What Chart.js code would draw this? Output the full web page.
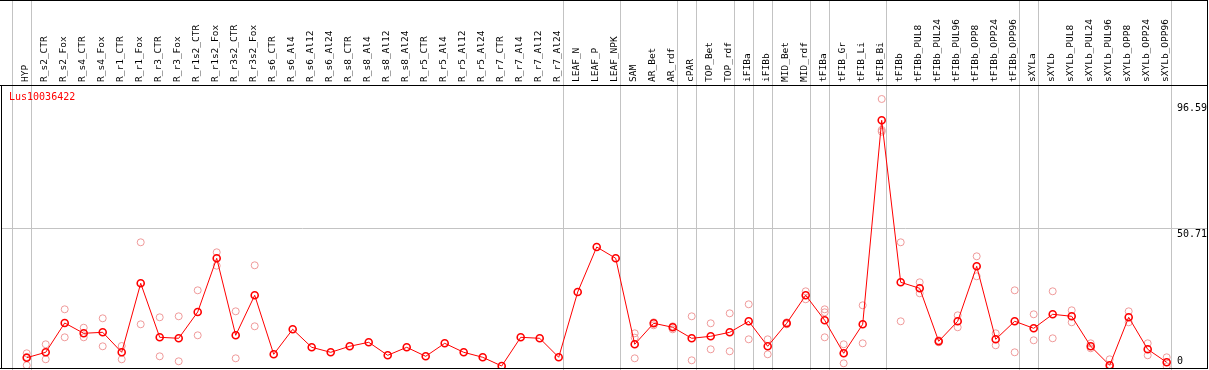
<!DOCTYPE html>
<html><head><meta charset="utf-8">
<script src="https://cdn.jsdelivr.net/npm/chart.js@4/dist/chart.umd.min.js"></script>
<style>html,body{margin:0;padding:0;background:#fff;overflow:hidden}#wrap{width:1209px;height:370px;position:relative}</style>
</head><body><div id="wrap"><canvas id="c" width="1209" height="370"></canvas></div>
<script>
const title = 'Lus10036422';
const categories = ['HYP','R_s2_CTR','R_s2_Fox','R_s4_CTR','R_s4_Fox','R_r1_CTR','R_r1_Fox','R_r3_CTR','R_r3_Fox','R_r1s2_CTR','R_r1s2_Fox','R_r3s2_CTR','R_r3s2_Fox','R_s6_CTR','R_s6_Al4','R_s6_Al12','R_s6_Al24','R_s8_CTR','R_s8_Al4','R_s8_Al12','R_s8_Al24','R_r5_CTR','R_r5_Al4','R_r5_Al12','R_r5_Al24','R_r7_CTR','R_r7_Al4','R_r7_Al12','R_r7_Al24','LEAF_N','LEAF_P','LEAF_NPK','SAM','AR_Bet','AR_rdf','cPAR','TOP_Bet','TOP_rdf','iFIBa','iFIBb','MID_Bet','MID_rdf','tFIBa','tFIB_Gr','tFIB_Li','tFIB_Bi','tFIBb','tFIBb_PUL8','tFIBb_PUL24','tFIBb_PUL96','tFIBb_OPP8','tFIBb_OPP24','tFIBb_OPP96','sXYLa','sXYLb','sXYLb_PUL8','sXYLb_PUL24','sXYLb_PUL96','sXYLb_OPP8','sXYLb_OPP24','sXYLb_OPP96'];
const means = [3.50,5.47,16.16,12.40,12.76,5.47,30.63,10.94,10.58,20.17,39.75,11.67,26.26,4.74,13.86,7.29,5.47,7.66,9.12,4.38,7.29,4.01,8.75,5.47,3.65,0.47,10.94,10.58,3.65,27.46,43.87,39.75,8.39,16.05,14.59,10.58,11.31,12.76,16.78,7.66,16.05,26.26,17.14,5.11,15.68,90.08,31.0,28.81,9.48,16.78,36.83,10.21,16.78,14.22,19.33,18.6,7.66,0.73,18.24,6.56,1.82];
const rep1 = [5.11,8.39,21.15,14.44,17.87,7.77,45.59,18.24,18.6,28.08,41.94,20.42,37.2,null,null,null,null,null,null,null,null,null,null,null,null,null,null,null,null,null,null,null,12.4,16.41,14.95,18.6,16.05,19.69,22.98,10.21,16.41,27.72,21.15,8.39,22.61,97.85,45.59,31.0,9.85,18.96,40.48,12.4,28.08,19.33,27.72,20.79,8.75,2.92,20.42,8.75,3.65];
const rep2 = [0.73,2.92,10.94,10.94,7.66,2.92,15.68,4.01,2.19,11.67,37.05,3.28,14.95,null,null,null,null,null,null,null,null,null,null,null,null,null,null,null,null,null,null,null,3.28,15.32,13.86,2.55,6.56,5.84,10.21,4.74,15.68,24.8,10.94,1.46,8.75,85.92,16.78,26.99,9.12,14.59,33.19,8.02,5.47,9.85,10.58,16.41,6.93,0,16.41,4.38,0.36];
const rep3 = [3.76,null,null,null,null,null,null,null,null,null,null,null,null,null,null,null,null,null,null,null,null,null,null,null,null,null,null,null,null,null,null,null,10.8,null,null,null,null,null,null,null,null,null,20.06,5.11,null,86.54,null,null,null,null,null,null,null,null,null,null,null,null,null,null,null];
const yTicks = [0, 50.71, 96.59];
const separators = [-1, 0, 28, 31, 34, 35, 37, 38, 39, 41, 42, 45, 52, 53, 60];

const RED = '#ff0000';
const PINK = '#f09a9a';
const GRAY = '#c3c3c3';
const MONO = 'DejaVu Sans Mono';

const toXY = arr => arr.map((v, i) => ({x: i, y: v}));
const repDs = arr => ({
  data: toXY(arr), showLine: false, borderColor: PINK, backgroundColor: 'rgba(0,0,0,0)',
  pointRadius: 3.5, pointBorderWidth: 1, pointBorderColor: PINK, pointBackgroundColor: 'rgba(0,0,0,0)', order: 2
});

const decor = {
  id: 'decor',
  beforeDraw(chart) {
    const ctx = chart.ctx, xs = chart.scales.x;
    ctx.save();
    ctx.fillStyle = '#fff';
    ctx.fillRect(0, 0, chart.width, chart.height);
    ctx.strokeStyle = GRAY; ctx.lineWidth = 1;
    separators.forEach(s => {
      const x = Math.round(xs.getPixelForValue(s + 0.2)) + 0.5;
      ctx.beginPath(); ctx.moveTo(x, 0); ctx.lineTo(x, chart.height); ctx.stroke();
    });
    ctx.restore();
  },
  afterDraw(chart) {
    const ctx = chart.ctx, ys = chart.scales.y, a = chart.chartArea;
    ctx.save();
    ctx.strokeStyle = '#000'; ctx.lineWidth = 1;
    ctx.beginPath();
    ctx.moveTo(0, 0.5); ctx.lineTo(1208, 0.5);
    ctx.moveTo(0, 85.5); ctx.lineTo(1208, 85.5);
    ctx.moveTo(0, 368.5); ctx.lineTo(1208, 368.5);
    ctx.moveTo(1207.5, 0); ctx.lineTo(1207.5, 369);
    ctx.moveTo(1.5, 85); ctx.lineTo(1.5, 369);
    ctx.stroke();
    ctx.fillStyle = RED;
    ctx.font = '10px "' + MONO + '"';
    ctx.textAlign = 'left'; ctx.textBaseline = 'middle';
    ctx.fillText(title, 9, 97.5);
    ctx.fillStyle = '#000';
    ctx.textAlign = 'left'; ctx.textBaseline = 'top';
    yTicks.forEach(v => {
      let y = ys.getPixelForValue(v) + 1;
      if (y > a.bottom - 12) y = a.bottom - 12;
      ctx.fillText(String(v), 1177, y);
    });
    ctx.restore();
  }
};

new Chart(document.getElementById('c'), {
  type: 'line',
  data: {
    datasets: [
      {data: toXY(means), borderColor: RED, borderWidth: 1, backgroundColor: 'rgba(0,0,0,0)',
       pointRadius: 3.5, pointBorderWidth: 1.6, pointBorderColor: RED, pointBackgroundColor: 'rgba(0,0,0,0)', order: 1},
      repDs(rep1), repDs(rep2), repDs(rep3)
    ]
  },
  options: {
    responsive: false, animation: false, devicePixelRatio: 1,
    layout: {autoPadding: false, padding: {left: 1, right: 2, top: 0, bottom: 2}},
    plugins: {legend: {display: false}, tooltip: {enabled: false}},
    scales: {
      x: {
        type: 'linear', position: 'top', min: -1.353, max: 62.121,
        afterBuildTicks: s => { s.ticks = categories.map((c, i) => ({value: i})); },
        afterFit: s => { s.height = 85; s.paddingLeft = 0; s.paddingRight = 0; },
        grid: {display: false, drawTicks: false},
        border: {display: false},
        ticks: {autoSkip: false, maxRotation: 90, minRotation: 90, padding: 3, labelOffset: 10.5,
          color: '#000', font: {family: MONO, size: 9.5},
          callback: v => categories[v] ?? ''}
      },
      y: {
        type: 'linear', position: 'right', min: -0.255, max: 102.95,
        afterBuildTicks: s => { s.ticks = yTicks.map(v => ({value: v})); },
        afterFit: s => { s.width = 0; s.paddingTop = 0; s.paddingBottom = 0; },
        ticks: {display: false},
        grid: {drawTicks: false, color: c => (c.tick && c.tick.value === 50.71) ? GRAY : 'rgba(0,0,0,0)'},
        border: {display: false}
      }
    }
  },
  plugins: [decor]
});
</script></body></html>
